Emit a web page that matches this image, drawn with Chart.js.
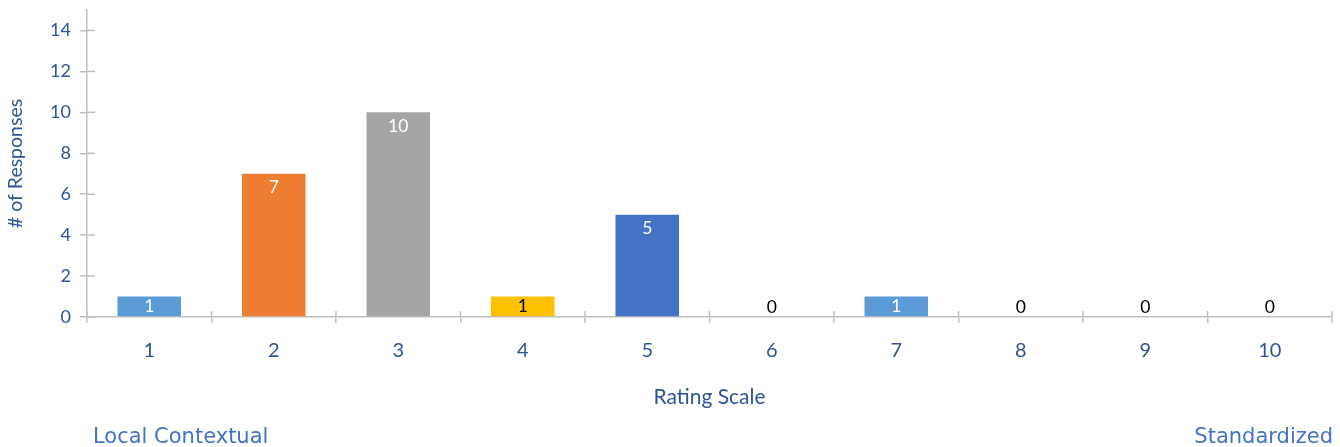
<!DOCTYPE html>
<html><head><meta charset="utf-8">
<script src="https://cdn.jsdelivr.net/npm/chart.js@4/dist/chart.umd.min.js"></script>
<style>
html,body{margin:0;padding:0;background:#fff;}
#wrap{position:relative;width:1340px;height:447px;}
canvas{position:absolute;left:0;top:0;}
.note{position:absolute;font-family:"DejaVu Sans",sans-serif;font-size:21px;color:#4472C4;white-space:nowrap;line-height:1;}
</style></head>
<body>
<div id="wrap">
<canvas id="c" width="1340" height="447"></canvas>
<div class="note" id="left" style="left:93px;top:426px;">Local Contextual</div>
<div class="note" id="right" style="right:7px;top:426px;">Standardized</div>
</div>
<script>
const categories = ['1','2','3','4','5','6','7','8','9','10'];
const responses = [1, 7, 10, 1, 5, 0, 1, 0, 0, 0];
const barColors = ['#5B9BD5','#ED7D31','#A5A5A5','#FFC000','#4472C4','#70AD47','#5B9BD5','#264478','#9E480E','#636363'];
const labelColors = ['#FFFFFF','#FFFFFF','#FFFFFF','#000000','#FFFFFF','#000000','#FFFFFF','#000000','#000000','#000000'];
const yTickValues = [0, 2, 4, 6, 8, 10, 12, 14];
const xTitle = 'Rating Scale';
const yTitle = '# of Responses';

const textBlue = '#2F5597';
const axisGray = '#BFBFBF';
const fam = 'Lato, "Open Sans", sans-serif';

const innerTicks = {
  id: 'innerTicks',
  afterDraw(chart) {
    const ctx = chart.ctx, xs = chart.scales.x, ys = chart.scales.y;
    ctx.save();
    ctx.strokeStyle = axisGray;
    ctx.lineWidth = 1.5;
    const n = categories.length;
    for (let i = 0; i <= n; i++) {
      const x = xs.left + i * (xs.width / n);
      ctx.beginPath(); ctx.moveTo(x, xs.top); ctx.lineTo(x, xs.top - 6); ctx.stroke();
    }
    yTickValues.forEach(v => {
      const y = ys.getPixelForValue(v);
      ctx.beginPath(); ctx.moveTo(ys.right, y); ctx.lineTo(ys.right + 8, y); ctx.stroke();
    });
    ctx.restore();
  }
};

const valueLabels = {
  id: 'valueLabels',
  afterDatasetsDraw(chart) {
    const ctx = chart.ctx;
    const meta = chart.getDatasetMeta(0);
    ctx.save();
    ctx.font = '17.5px ' + fam;
    ctx.textAlign = 'center';
    ctx.textBaseline = 'middle';
    meta.data.forEach((el, i) => {
      const y = Math.min(el.y + 14, el.base - 10);
      ctx.fillStyle = labelColors[i];
      ctx.fillText(String(responses[i]), el.x, y);
    });
    ctx.restore();
  }
};

new Chart(document.getElementById('c'), {
  type: 'bar',
  data: {
    labels: categories,
    datasets: [{
      data: responses,
      backgroundColor: barColors,
      barPercentage: 0.51,
      categoryPercentage: 1.0
    }]
  },
  options: {
    responsive: false,
    animation: false,
    events: [],
    layout: { padding: { top: 10, right: 8, left: 0, bottom: 0 } },
    plugins: { legend: { display: false }, tooltip: { enabled: false } },
    scales: {
      x: {
        offset: true,
        grid: { offset: true, drawOnChartArea: false, color: axisGray, lineWidth: 1.5, tickLength: 6 },
        border: { color: axisGray, width: 1.5 },
        ticks: { color: textBlue, font: { family: fam, size: 20 }, padding: 16 },
        title: { display: true, text: xTitle, color: textBlue, font: { family: fam, size: 21 }, padding: { top: 0, bottom: 37 } },
        afterFit(s) { s.height = 130; s.paddingLeft = 0; s.paddingRight = 0; }
      },
      y: {
        min: 0, max: 15,
        grid: { drawOnChartArea: false, color: axisGray, lineWidth: 1.5, tickLength: 7 },
        border: { color: axisGray, width: 1.5 },
        ticks: { stepSize: 2, includeBounds: false, color: textBlue, font: { family: fam, size: 18 }, padding: 9 },
        title: { display: true, text: yTitle, color: textBlue, font: { family: fam, size: 19.5 }, padding: { top: 4, bottom: 0 } },
        afterFit(s) { s.width = 87; s.paddingTop = 0; s.paddingBottom = 0; }
      }
    }
  },
  plugins: [innerTicks, valueLabels]
});
</script>
</body></html>
